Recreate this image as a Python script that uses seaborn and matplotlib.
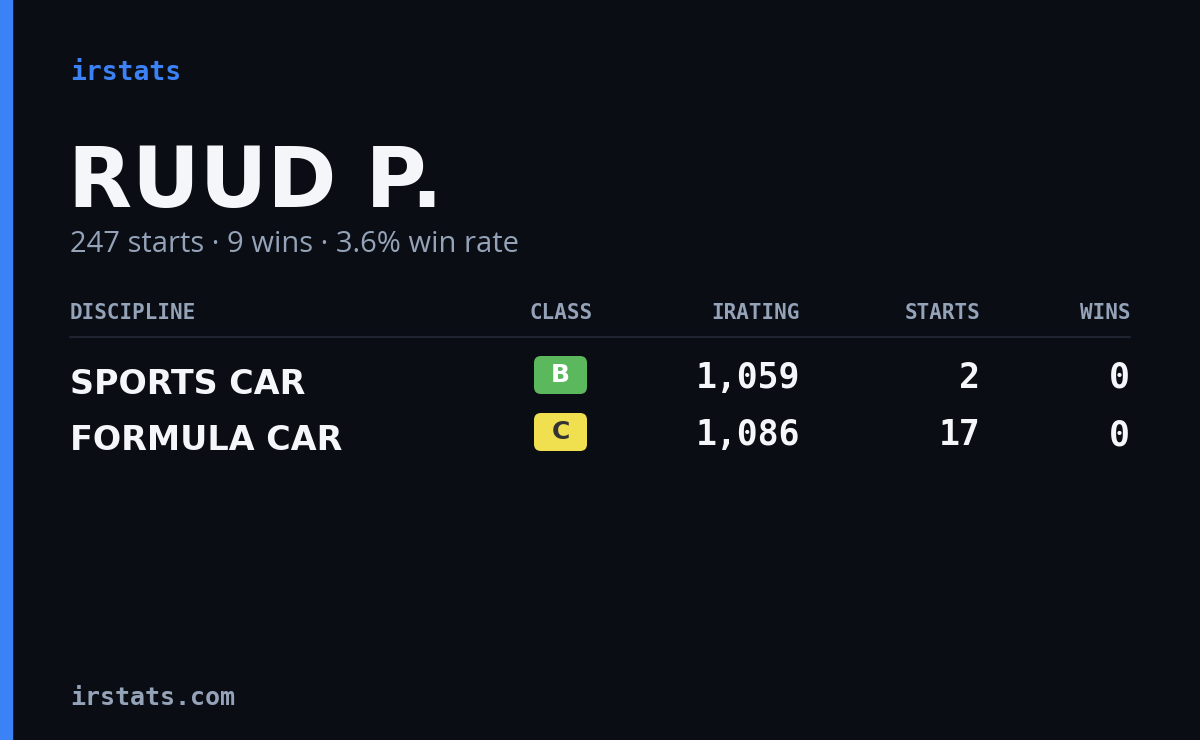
import matplotlib
matplotlib.use("Agg")
import matplotlib.pyplot as plt
from matplotlib.patches import FancyBboxPatch, Rectangle
import seaborn as sns

brand = "irstats"
driver = "RUUD P."
subtitle = "247 starts · 9 wins · 3.6% win rate"
columns = ["DISCIPLINE", "CLASS", "IRATING", "STARTS", "WINS"]
disciplines = ["SPORTS CAR", "FORMULA CAR"]
classes = ["B", "C"]
class_colors = ["#5cb85c", "#f0e050"]
class_text = ["#ffffff", "#333333"]
iratings = [1059, 1086]
starts = [2, 17]
wins = [0, 0]
footer = "irstats.com"

sns.set_theme(style="dark")
BG = "#0a0d14"
fig = plt.figure(figsize=(12, 7.4), dpi=100, facecolor=BG)
ax = fig.add_axes([0, 0, 1, 1])
ax.set_xlim(0, 1200); ax.set_ylim(740, 0); ax.axis("off")
ax.set_facecolor(BG)
ax.add_patch(Rectangle((0, 0), 12, 740, color="#3b82f6"))

mono = "DejaVu Sans Mono"
narrow = ["Liberation Sans Narrow", "DejaVu Sans"]
ax.text(70, 73, brand, color="#3b82f6", fontsize=19, family=mono, weight="bold", va="center")
ax.text(68, 183, driver, color="#f5f6fa", fontsize=60, weight="bold",
        family=narrow, va="center")
ax.text(70, 245, subtitle, color="#94a3b8", fontsize=21, family="Open Sans", va="center")

col_x = [70, 593, 800, 980, 1130]
col_ha = ["left", "right", "right", "right", "right"]
for c, x, ha in zip(columns, col_x, col_ha):
    ax.text(x, 313, c, color="#94a3b8", fontsize=15, family=mono, weight="bold", ha=ha, va="center")
ax.plot([70, 1130], [337, 337], color="#1e2430", lw=1.5)

rows_y = [380, 437]
for i, y in enumerate(rows_y):
    ax.text(70, y + 4, disciplines[i], color="#f5f6fa", fontsize=24, weight="bold",
            family=narrow, va="center")
    ax.add_patch(FancyBboxPatch((534, y - 24), 53, 38, boxstyle="round,pad=0,rounding_size=7",
                                fc=class_colors[i], ec="none"))
    ax.text(560.5, y - 5, classes[i], color=class_text[i], fontsize=18, weight="bold",
            ha="center", va="center")
    ax.text(800, y - 2, f"{iratings[i]:,}", color="#f5f6fa", fontsize=25, family=mono, weight="bold", ha="right", va="center")
    ax.text(980, y - 2, str(starts[i]), color="#f5f6fa", fontsize=25, family=mono, weight="bold", ha="right", va="center")
    ax.text(1130, y - 2, str(wins[i]), color="#f5f6fa", fontsize=25, family=mono, weight="bold", ha="right", va="center")

ax.text(70, 698, footer, color="#94a3b8", fontsize=18, family=mono, weight="bold", va="center")
fig.savefig("out.png", dpi=100, facecolor=BG)
